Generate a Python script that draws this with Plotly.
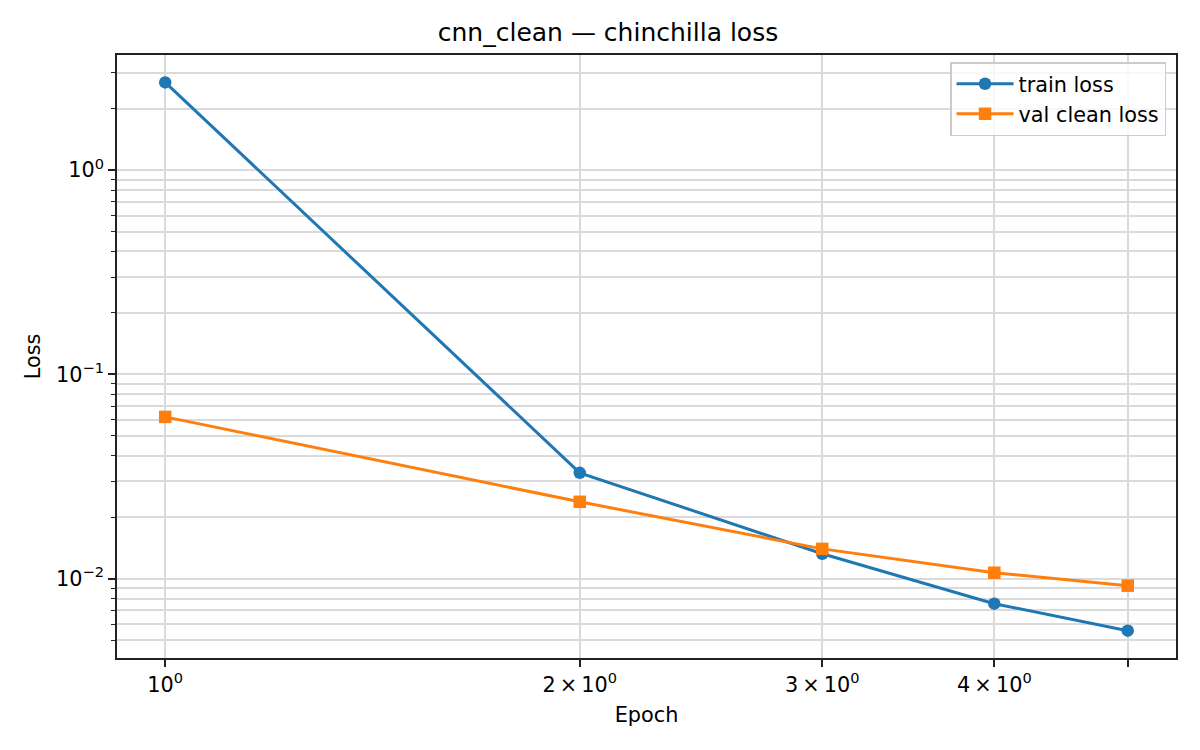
#!/usr/bin/env python3
# coding: utf-8

from plotly import graph_objs as go

TITLE = 'cnn_clean — chinchilla loss'
XLABEL = 'Epoch'
YLABEL = 'Loss'

EPOCHS = [1, 2, 3, 4, 5]
TRAIN_LOSS = [2.69, 0.033, 0.01325, 0.00755, 0.00557]
VAL_CLEAN_LOSS = [0.062, 0.0238, 0.0140, 0.0107, 0.00925]

X_TICKS = [1, 2, 3, 4, 5]
X_TICK_LABELS = ['10<sup>0</sup>', '2\u2009×\u200910<sup>0</sup>', '3\u2009×\u200910<sup>0</sup>',
                 '4\u2009×\u200910<sup>0</sup>', '']
Y_TICKS = [0.01, 0.1, 1]
Y_TICK_LABELS = ['10<sup>−2</sup>', '10<sup>−1</sup>', '10<sup>0</sup>']
Y_MINOR = [m * 10 ** e for e in (-3, -2, -1, 0) for m in range(2, 10)]

FONT = 'DejaVu Sans'
GRID = '#dadada'
INK = '#222222'


def get_figure():
    fig = go.Figure()

    fig.add_trace(go.Scatter(
        x=EPOCHS, y=TRAIN_LOSS, mode='lines+markers', name='train loss',
        line=dict(color='#1f77b4', width=3),
        marker=dict(symbol='circle', size=12.5, color='#1f77b4'),
    ))
    fig.add_trace(go.Scatter(
        x=EPOCHS, y=VAL_CLEAN_LOSS, mode='lines+markers', name='val clean loss',
        line=dict(color='#ff7f0e', width=3),
        marker=dict(symbol='square', size=12.5, color='#ff7f0e'),
    ))

    axis = dict(
        type='log', showline=True, linecolor=INK, linewidth=1.7, mirror=True,
        ticks='outside', ticklen=7, tickwidth=1.7, tickcolor=INK,
        showgrid=True, gridcolor=GRID, gridwidth=1.6, zeroline=False,
        tickfont=dict(size=20.8, color='black'),
        title_font=dict(size=20.8, color='black'),
    )

    # the page body adds an 8px offset, margins are shifted to compensate
    fig.update_layout(
        width=1200, height=750,
        margin=dict(l=109, r=32, t=47, b=100),
        paper_bgcolor='white', plot_bgcolor='white',
        font=dict(family=FONT, color='black'),
        title=dict(text=TITLE, x=0.5, xanchor='center', y=0.968, yanchor='middle',
                   font=dict(size=25, color='black')),
        xaxis=dict(axis, range=[-0.035, 0.734], tickmode='array',
                   tickvals=X_TICKS, ticktext=X_TICK_LABELS,
                   title=dict(text=XLABEL, standoff=12)),
        yaxis=dict(axis, range=[-2.388, 0.564], tickmode='array',
                   tickvals=Y_TICKS, ticktext=Y_TICK_LABELS,
                   title=dict(text=YLABEL, standoff=10),
                   minor=dict(tickmode='array', tickvals=Y_MINOR, ticks='outside',
                              ticklen=4, tickwidth=1.2, tickcolor=INK,
                              showgrid=True, gridcolor=GRID, gridwidth=1.6)),
        legend=dict(x=0.9906, y=0.988, xanchor='right', yanchor='top',
                    bgcolor='rgba(255,255,255,0.8)', bordercolor='#cccccc', borderwidth=1.5,
                    itemwidth=57, font=dict(size=20.8, color='black')),
        showlegend=True,
    )

    return fig


def main():
    fig = get_figure()
    fig.write_html('out.html')


if __name__ == "__main__":
    main()
